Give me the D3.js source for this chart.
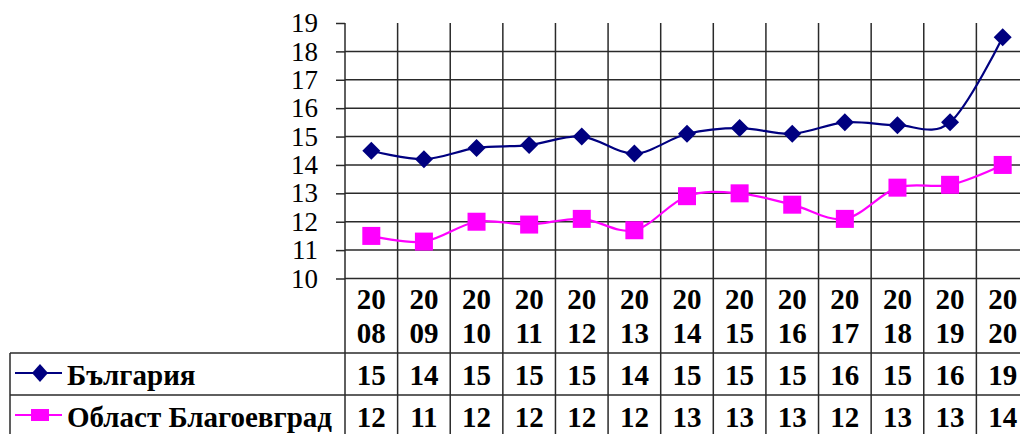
<!DOCTYPE html>
<html>
<head>
<meta charset="utf-8">
<script src="https://cdn.jsdelivr.net/npm/d3@7/dist/d3.min.js"></script>
<style>
  html, body { margin: 0; padding: 0; background: #fff; }
  svg { display: block; }
</style>
</head>
<body>
<svg id="chart" width="1020" height="434"></svg>
<script>
const years = ["2008","2009","2010","2011","2012","2013","2014","2015","2016","2017","2018","2019","2020"];
const bulgaria = [14.5, 14.2, 14.6, 14.7, 15.0, 14.4, 15.1, 15.3, 15.1, 15.5, 15.4, 15.5, 18.5];
const blagoevgrad = [11.5, 11.3, 12.0, 11.9, 12.1, 11.7, 12.9, 13.0, 12.6, 12.1, 13.2, 13.3, 14.0];
const yTicks = [10, 11, 12, 13, 14, 15, 16, 17, 18, 19];
const seriesNames = ["България", "Област Благоевград"];

const FONT = '"Liberation Serif"';
const svg = d3.select("#chart");
const plotLeft = 345, plotRight = 1029;
const x = d3.scaleBand().domain(years).range([plotLeft, plotRight]);
const y = d3.scaleLinear().domain([10, 19]).range([278.5, 23]);

const gridColor = "#2a2a2a";
const tableTop = 353, rowH = 42, tableLeft = 10;
const tableBottom = tableTop + 2 * rowH;

// horizontal gridlines (11..18) and axis line at 10
svg.append("g").selectAll("line").data(yTicks.filter(d => d < 19)).join("line")
  .attr("x1", plotLeft).attr("x2", 1020)
  .attr("y1", d => y(d)).attr("y2", d => y(d))
  .attr("stroke", gridColor).attr("stroke-width", 1.5);

// vertical grid lines at column boundaries (through category row and table)
const bounds = years.map(d => x(d)).concat([plotRight]);
svg.append("g").selectAll("line").data(bounds).join("line")
  .attr("x1", d => d).attr("x2", d => d)
  .attr("y1", y(19)).attr("y2", tableBottom)
  .attr("stroke", gridColor).attr("stroke-width", 1.5);

// y axis
const yAxis = d3.axisLeft(y).tickValues(yTicks).tickSize(9).tickPadding(18).tickFormat(d3.format("d"));
const ya = svg.append("g").attr("transform", `translate(${plotLeft},0)`).call(yAxis);
ya.attr("font-family", null).attr("font-size", null);
ya.select(".domain").remove();
ya.selectAll(".tick line").attr("stroke", gridColor).attr("stroke-width", 1.5);
ya.selectAll(".tick text").style("font-family", FONT).style("font-size", "27px").attr("fill", "#000");

// table lines
[tableTop, tableTop + rowH, tableBottom].forEach(ty => {
  svg.append("line").attr("x1", tableLeft).attr("x2", 1020).attr("y1", ty).attr("y2", ty)
    .attr("stroke", gridColor).attr("stroke-width", 1.5);
});
svg.append("line").attr("x1", tableLeft).attr("x2", tableLeft).attr("y1", tableTop).attr("y2", tableBottom)
  .attr("stroke", gridColor).attr("stroke-width", 1.5);

// year labels (two lines)
const yl = svg.append("g").selectAll("text").data(years).join("text")
  .attr("text-anchor", "middle")
  .style("font-family", FONT).style("font-size", "29px").style("font-weight", "bold");
yl.append("tspan").attr("x", d => x(d) + x.bandwidth() / 2).attr("y", 309).text(d => d.slice(0, 2));
yl.append("tspan").attr("x", d => x(d) + x.bandwidth() / 2).attr("y", 343).text(d => d.slice(2));

// series
const colors = ["#000080", "#FF00FF"];
const data = [bulgaria, blagoevgrad];
const line = d3.line().x((d, i) => x(years[i]) + x.bandwidth() / 2).y(d => y(d)).curve(d3.curveCardinal.tension(0));

data.forEach((vals, si) => {
  svg.append("path").datum(vals).attr("d", line).attr("fill", "none")
    .attr("stroke", colors[si]).attr("stroke-width", 2.2);
});

// markers
const g0 = svg.append("g");
g0.selectAll("path").data(bulgaria).join("path")
  .attr("transform", (d, i) => `translate(${x(years[i]) + x.bandwidth() / 2},${y(d)})`)
  .attr("d", "M0,-9L9,0L0,9L-9,0Z").attr("fill", colors[0]);
const g1 = svg.append("g");
g1.selectAll("rect").data(blagoevgrad).join("rect")
  .attr("x", (d, i) => x(years[i]) + x.bandwidth() / 2 - 9).attr("y", d => y(d) - 9)
  .attr("width", 18).attr("height", 18).attr("fill", colors[1]);

// table rows: legend + values
data.forEach((vals, si) => {
  const rowY = tableTop + si * rowH;
  const cy = rowY + rowH / 2;
  svg.append("line").attr("x1", 15).attr("x2", 62).attr("y1", cy - 1).attr("y2", cy - 1)
    .attr("stroke", colors[si]).attr("stroke-width", 2.2);
  if (si === 0) {
    svg.append("path").attr("transform", `translate(40,${cy - 1})`).attr("d", "M0,-9L8,0L0,9L-8,0Z").attr("fill", colors[0]);
  } else {
    svg.append("rect").attr("x", 31).attr("y", cy - 7).attr("width", 18).attr("height", 12).attr("fill", colors[1]);
  }
  svg.append("text").attr("x", 67).attr("y", rowY + 32)
    .style("font-family", FONT).style("font-size", "29px").style("font-weight", "bold")
    .text(seriesNames[si]);
  svg.append("g").selectAll("text").data(vals).join("text")
    .attr("x", (d, i) => x(years[i]) + x.bandwidth() / 2).attr("y", rowY + 32)
    .attr("text-anchor", "middle")
    .style("font-family", FONT).style("font-size", "29px").style("font-weight", "bold")
    .text(d => d3.format(".0f")(d));
});
</script>
</body>
</html>
